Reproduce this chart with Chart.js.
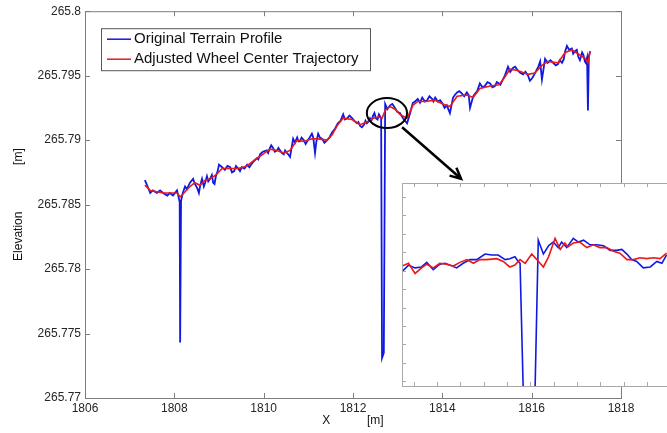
<!DOCTYPE html>
<html>
<head>
<meta charset="utf-8">
<script src="https://cdn.jsdelivr.net/npm/chart.js@4.4.1/dist/chart.umd.min.js"></script>
<style>
  html, body { margin: 0; padding: 0; background: #fff; overflow: hidden; }
  #wrap { position: relative; width: 667px; height: 433px; overflow: hidden; }
  #main { position: absolute; left: 0; top: 0; }
  #inset { position: absolute; left: 400px; top: 181px; }
</style>
</head>
<body>
<div id="wrap">
  <canvas id="main" width="667" height="433"></canvas>
  <canvas id="inset" width="284" height="207"></canvas>
</div>
<script>
// ---------- DATA ----------
const seriesNames = ['Original Terrain Profile', 'Adjusted Wheel Center Trajectory'];

const terrainX = [1807.34,1807.39,1807.46,1807.52,1807.61,1807.68,1807.75,1807.84,1807.90,1807.97,1808.06,1808.10,1808.12,1808.13,1808.15,1808.19,1808.24,1808.28,1808.35,1808.42,1808.46,1808.51,1808.55,1808.58,1808.62,1808.66,1808.69,1808.73,1808.76,1808.80,1808.84,1808.87,1808.90,1808.93,1808.97,1809.00,1809.07,1809.13,1809.19,1809.25,1809.29,1809.34,1809.38,1809.43,1809.47,1809.51,1809.57,1809.63,1809.68,1809.74,1809.79,1809.85,1809.88,1809.92,1809.98,1810.07,1810.10,1810.14,1810.17,1810.21,1810.25,1810.30,1810.33,1810.37,1810.41,1810.45,1810.48,1810.52,1810.55,1810.59,1810.66,1810.70,1810.75,1810.78,1810.81,1810.85,1810.90,1810.94,1810.99,1811.03,1811.08,1811.11,1811.15,1811.18,1811.22,1811.26,1811.31,1811.36,1811.42,1811.47,1811.53,1811.60,1811.66,1811.72,1811.78,1811.82,1811.87,1811.92,1811.98,1812.03,1812.09,1812.12,1812.16,1812.20,1812.25,1812.28,1812.31,1812.34,1812.38,1812.41,1812.45,1812.48,1812.51,1812.55,1812.58,1812.63,1812.65,1812.69,1812.72,1812.77,1812.83,1812.88,1812.94,1812.99,1813.05,1813.12,1813.21,1813.28,1813.34,1813.39,1813.45,1813.50,1813.55,1813.61,1813.66,1813.71,1813.77,1813.80,1813.84,1813.90,1813.95,1814.01,1814.05,1814.10,1814.17,1814.24,1814.28,1814.33,1814.38,1814.44,1814.49,1814.55,1814.59,1814.62,1814.69,1814.73,1814.78,1814.84,1814.90,1814.95,1815.01,1815.07,1815.12,1815.18,1815.22,1815.27,1815.30,1815.34,1815.40,1815.47,1815.52,1815.58,1815.63,1815.69,1815.75,1815.81,1815.86,1815.92,1815.96,1816.01,1816.06,1816.12,1816.15,1816.19,1816.23,1816.30,1816.36,1816.42,1816.48,1816.54,1816.59,1816.63,1816.68,1816.72,1816.75,1816.79,1816.84,1816.90,1816.93,1816.97,1817.01,1817.04,1817.08,1817.13,1817.16,1817.19,1817.21,1817.24,1817.26,1817.28,1817.31];
const terrainY = [265.7869,265.7865,265.7859,265.7861,265.7859,265.7861,265.7859,265.7857,265.7859,265.7857,265.7861,265.7855,265.7852,265.7743,265.7853,265.7859,265.7864,265.7862,265.7867,265.7870,265.7866,265.7863,265.7859,265.7865,265.7870,265.7864,265.7867,265.7872,265.7868,265.7870,265.7873,265.7867,265.7866,265.7872,265.7876,265.7881,265.7879,265.7877,265.7880,265.7879,265.7875,265.7876,265.7880,265.7878,265.7876,265.7879,265.7878,265.7881,265.7879,265.7882,265.7884,265.7886,265.7885,265.7889,265.7891,265.7892,265.7890,265.7894,265.7896,265.7894,265.7891,265.7892,265.7894,265.7892,265.7890,265.7889,265.7892,265.7890,265.7889,265.7887,265.7901,265.7898,265.7902,265.7899,265.7899,265.7902,265.7900,265.7897,265.7900,265.7902,265.7905,265.7902,265.7890,265.7899,265.7905,265.7902,265.7901,265.7898,265.7900,265.7902,265.7906,265.7909,265.7913,265.7915,265.7920,265.7916,265.7917,265.7919,265.7917,265.7915,265.7913,265.7914,265.7911,265.7910,265.7912,265.7915,265.7913,265.7914,265.7917,265.7915,265.7919,265.7921,265.7917,265.7916,265.7920,265.7917,265.7731,265.7735,265.7928,265.7924,265.7927,265.7928,265.7925,265.7922,265.7921,265.7917,265.7913,265.7921,265.7929,265.7930,265.7932,265.7929,265.7933,265.7930,265.7931,265.7934,265.7932,265.7930,265.7933,265.7930,265.7931,265.7928,265.7925,265.7927,265.7921,265.7933,265.7935,265.7937,265.7938,265.7936,265.7934,265.7937,265.7935,265.7925,265.7934,265.7936,265.7938,265.7944,265.7941,265.7942,265.7945,265.7944,265.7941,265.7942,265.7945,265.7944,265.7943,265.7946,265.7950,265.7957,265.7953,265.7956,265.7957,265.7954,265.7952,265.7951,265.7953,265.7950,265.7946,265.7948,265.7951,265.7955,265.7957,265.7961,265.7947,265.7963,265.7960,265.7962,265.7960,265.7958,265.7959,265.7962,265.7960,265.7963,265.7969,265.7973,265.7970,265.7971,265.7967,265.7969,265.7970,265.7965,265.7962,265.7968,265.7966,265.7961,265.7960,265.7964,265.7923,265.7965,265.7969];

const wheelX = [1807.34,1807.46,1807.61,1807.75,1807.90,1808.06,1808.13,1808.19,1808.35,1808.46,1808.57,1808.69,1808.80,1808.93,1809.07,1809.25,1809.43,1809.63,1809.81,1809.98,1810.14,1810.30,1810.45,1810.59,1810.75,1810.90,1811.08,1811.22,1811.42,1811.53,1811.66,1811.78,1811.98,1812.16,1812.31,1812.45,1812.58,1812.65,1812.72,1812.83,1812.94,1813.05,1813.21,1813.34,1813.45,1813.61,1813.84,1814.01,1814.17,1814.33,1814.55,1814.69,1814.84,1815.07,1815.27,1815.40,1815.51,1815.69,1815.92,1816.07,1816.23,1816.36,1816.59,1816.75,1816.90,1817.08,1817.21,1817.26,1817.31];
const wheelY = [265.7865,265.7861,265.7860,265.7859,265.7859,265.7859,265.7856,265.7858,265.7864,265.7867,265.7865,265.7869,265.7870,265.7873,265.7878,265.7878,265.7878,265.7880,265.7885,265.7889,265.7893,265.7892,265.7890,265.7892,265.7900,265.7899,265.7901,265.7901,265.7900,265.7904,265.7912,265.7917,265.7916,265.7912,265.7914,265.7917,265.7918,265.7917,265.7923,265.7926,265.7924,265.7920,265.7917,265.7927,265.7930,265.7930,265.7931,265.7928,265.7926,265.7934,265.7935,265.7933,265.7940,265.7942,265.7943,265.7949,265.7955,265.7954,265.7951,265.7952,265.7958,265.7961,265.7960,265.7968,265.7970,265.7966,265.7963,265.7960,265.7969];

// zoomed inset (detail around X = 1812.4 .. 1813.0)
const insetTerrainX = [1812.400,1812.414,1812.428,1812.442,1812.453,1812.467,1812.481,1812.492,1812.503,1812.517,1812.531,1812.546,1812.560,1812.578,1812.592,1812.606,1812.621,1812.631,1812.642,1812.649,1812.653,1812.661,1812.684,1812.692,1812.703,1812.714,1812.724,1812.735,1812.742,1812.753,1812.767,1812.778,1812.789,1812.803,1812.817,1812.832,1812.846,1812.860,1812.871,1812.882,1812.892,1812.903,1812.917,1812.932,1812.946,1812.957,1812.967];
const insetTerrainY = [265.79224,265.79231,265.79228,265.79229,265.79234,265.79226,265.79232,265.79233,265.79231,265.79228,265.79233,265.79237,265.79237,265.79243,265.79242,265.79242,265.79237,265.79238,265.79240,265.79235,265.79233,265.79070,265.79070,265.79258,265.79243,265.79252,265.79256,265.79250,265.79256,265.79250,265.79260,265.79256,265.79258,265.79253,265.79253,265.79252,265.79247,265.79247,265.79248,265.79243,265.79237,265.79235,265.79228,265.79229,265.79235,265.79233,265.79242];
const insetWheelX = [1812.400,1812.414,1812.428,1812.442,1812.453,1812.467,1812.481,1812.496,1812.510,1812.524,1812.539,1812.553,1812.567,1812.581,1812.603,1812.617,1812.631,1812.642,1812.653,1812.664,1812.678,1812.689,1812.703,1812.714,1812.728,1812.739,1812.749,1812.756,1812.767,1812.781,1812.796,1812.810,1812.824,1812.839,1812.853,1812.867,1812.882,1812.896,1812.910,1812.924,1812.939,1812.953,1812.967];
const insetWheelY = [265.79230,265.79233,265.79222,265.79228,265.79232,265.79228,265.79233,265.79232,265.79230,265.79234,265.79237,265.79233,265.79237,265.79237,265.79238,265.79235,265.79229,265.79231,265.79237,265.79233,265.79243,265.79237,265.79229,265.79240,265.79260,265.79248,265.79255,265.79251,265.79255,265.79256,265.79250,265.79253,265.79250,265.79250,265.79246,265.79244,265.79237,265.79237,265.79239,265.79238,265.79239,265.79238,265.79244];

const xTickValues = [1806, 1808, 1810, 1812, 1814, 1816, 1818];
const yTickValues = [265.77, 265.775, 265.78, 265.785, 265.79, 265.795, 265.8];
const insetXTickValues = [1812.425,1812.475,1812.525,1812.575,1812.625,1812.675,1812.725,1812.775,1812.825,1812.875,1812.925,1812.975];
const insetYTickValues = [265.79105,265.79125,265.79145,265.79165,265.79185,265.79205,265.79225,265.79245,265.79265,265.79285,265.79305];

// ---------- STYLE ----------
const BLUE = 'rgb(15,25,225)';
const RED = 'rgb(235,25,25)';
const FONT = "'Liberation Sans', Arial, sans-serif";
const toPts = (xs, ys) => xs.map((x, i) => ({ x, y: ys[i] }));

const mainDecor = {
  id: 'mainDecor',
  afterDatasetsDraw(chart) {
    const { ctx, chartArea: a, scales: { x, y } } = chart;
    ctx.save();
    ctx.strokeStyle = '#7d7d7d';
    ctx.lineWidth = 1;
    ctx.strokeRect(a.left + 0.5, a.top + 0.5, a.right - a.left, a.bottom - a.top);
    ctx.beginPath();
    xTickValues.forEach(v => {
      const px = Math.round(x.getPixelForValue(v)) + 0.5;
      ctx.moveTo(px, a.bottom); ctx.lineTo(px, a.bottom - 5);
      ctx.moveTo(px, a.top); ctx.lineTo(px, a.top + 5);
    });
    yTickValues.forEach(v => {
      const py = Math.round(y.getPixelForValue(v)) + 0.5;
      ctx.moveTo(a.left, py); ctx.lineTo(a.left + 5, py);
      ctx.moveTo(a.right, py); ctx.lineTo(a.right - 5, py);
    });
    ctx.stroke();

    // circle around the zoomed detail
    const cx = x.getPixelForValue(1812.76), cy = y.getPixelForValue(265.7921);
    const rx = x.getPixelForValue(1812.76 + 0.45) - cx;
    const ry = cy - y.getPixelForValue(265.7921 + 0.00116);
    ctx.strokeStyle = '#000';
    ctx.lineWidth = 2;
    ctx.beginPath();
    ctx.ellipse(cx, cy, rx, ry, 0, 0, Math.PI * 2);
    ctx.stroke();

    // arrow
    const x1 = x.getPixelForValue(1813.10), y1 = y.getPixelForValue(265.7910);
    const x2 = x.getPixelForValue(1814.42), y2 = y.getPixelForValue(265.7870);
    const ang = Math.atan2(y2 - y1, x2 - x1);
    ctx.lineWidth = 2.5;
    ctx.beginPath();
    ctx.moveTo(x1, y1); ctx.lineTo(x2, y2);
    ctx.moveTo(x2 - 12 * Math.cos(ang - 0.45), y2 - 12 * Math.sin(ang - 0.45));
    ctx.lineTo(x2, y2);
    ctx.lineTo(x2 - 12 * Math.cos(ang + 0.45), y2 - 12 * Math.sin(ang + 0.45));
    ctx.stroke();

    // legend
    const lx = a.left + 16, ly = a.top + 17, lw = 269, lh = 42;
    ctx.fillStyle = '#fff';
    ctx.fillRect(lx, ly, lw, lh);
    ctx.strokeStyle = '#555';
    ctx.lineWidth = 1;
    ctx.strokeRect(lx + 0.5, ly + 0.5, lw, lh);
    ctx.font = '15px ' + FONT;
    ctx.textBaseline = 'middle';
    ctx.fillStyle = '#111';
    const cols = [BLUE, RED];
    seriesNames.forEach((name, i) => {
      const yy = ly + 11 + i * 20;
      ctx.strokeStyle = cols[i];
      ctx.lineWidth = 1.5;
      ctx.beginPath(); ctx.moveTo(lx + 6, yy); ctx.lineTo(lx + 30, yy); ctx.stroke();
      ctx.fillText(name, lx + 33, yy);
    });
    ctx.restore();
  }
};

new Chart(document.getElementById('main'), {
  type: 'scatter',
  data: {
    datasets: [
      { label: seriesNames[0], data: toPts(terrainX, terrainY), showLine: true, borderColor: BLUE, borderWidth: 1.8, pointRadius: 0, order: 2 },
      { label: seriesNames[1], data: toPts(wheelX, wheelY), showLine: true, borderColor: RED, borderWidth: 1.6, pointRadius: 0, order: 1 }
    ]
  },
  options: {
    responsive: false,
    animation: false,
    layout: { padding: { top: 10, right: 46, left: 0, bottom: 0 } },
    plugins: { legend: { display: false }, tooltip: { enabled: false } },
    scales: {
      x: {
        type: 'linear', min: 1806, max: 1818,
        afterBuildTicks: s => { s.ticks = xTickValues.map(v => ({ value: v })); },
        afterFit: s => { s.height = 35; },
        grid: { display: false, drawTicks: false },
        border: { display: false },
        ticks: { padding: 3, color: '#262626', font: { family: FONT, size: 12 }, callback: v => String(v) },
        title: { display: true, text: 'X           [m]', color: '#111', font: { family: FONT, size: 12 }, padding: { top: 0, bottom: 5 } }
      },
      y: {
        type: 'linear', min: 265.77, max: 265.8,
        afterBuildTicks: s => { s.ticks = yTickValues.map(v => ({ value: v })); },
        afterFit: s => { s.width = 85; },
        grid: { display: false, drawTicks: false },
        border: { display: false },
        ticks: { padding: 4, color: '#262626', font: { family: FONT, size: 12 }, callback: v => String(Number(v.toFixed(3))) },
        title: { display: true, text: 'Elevation              [m]', color: '#111', font: { family: FONT, size: 12 }, padding: { top: 11, bottom: 0 } }
      }
    }
  },
  plugins: [mainDecor]
});

const insetDecor = {
  id: 'insetDecor',
  beforeDatasetsDraw(chart) {
    const { ctx, chartArea: a } = chart;
    ctx.save();
    ctx.fillStyle = '#fff';
    ctx.fillRect(a.left, a.top, a.right - a.left, a.bottom - a.top);
    ctx.restore();
  },
  afterDatasetsDraw(chart) {
    const { ctx, chartArea: a, scales: { x, y } } = chart;
    ctx.save();
    ctx.strokeStyle = '#a8a8a8';
    ctx.lineWidth = 1;
    ctx.strokeRect(a.left + 0.5, a.top + 0.5, a.right - a.left, a.bottom - a.top);
    ctx.beginPath();
    insetXTickValues.forEach(v => {
      const px = Math.round(x.getPixelForValue(v)) + 0.5;
      ctx.moveTo(px, a.bottom); ctx.lineTo(px, a.bottom - 4);
      ctx.moveTo(px, a.top); ctx.lineTo(px, a.top + 4);
    });
    insetYTickValues.forEach(v => {
      const py = Math.round(y.getPixelForValue(v)) + 0.5;
      ctx.moveTo(a.left, py); ctx.lineTo(a.left + 4, py);
      ctx.moveTo(a.right, py); ctx.lineTo(a.right - 4, py);
    });
    ctx.stroke();
    ctx.restore();
  }
};

new Chart(document.getElementById('inset'), {
  type: 'scatter',
  data: {
    datasets: [
      { label: seriesNames[0], data: toPts(insetTerrainX, insetTerrainY), showLine: true, borderColor: BLUE, borderWidth: 1.6, pointRadius: 0, order: 2 },
      { label: seriesNames[1], data: toPts(insetWheelX, insetWheelY), showLine: true, borderColor: RED, borderWidth: 1.6, pointRadius: 0, order: 1 }
    ]
  },
  options: {
    responsive: false,
    animation: false,
    layout: { padding: 2 },
    plugins: { legend: { display: false }, tooltip: { enabled: false } },
    scales: {
      x: { type: 'linear', display: false, min: 1812.40, max: 1813.00 },
      y: { type: 'linear', display: false, min: 265.791, max: 265.7932 }
    }
  },
  plugins: [insetDecor]
});
</script>
</body>
</html>
